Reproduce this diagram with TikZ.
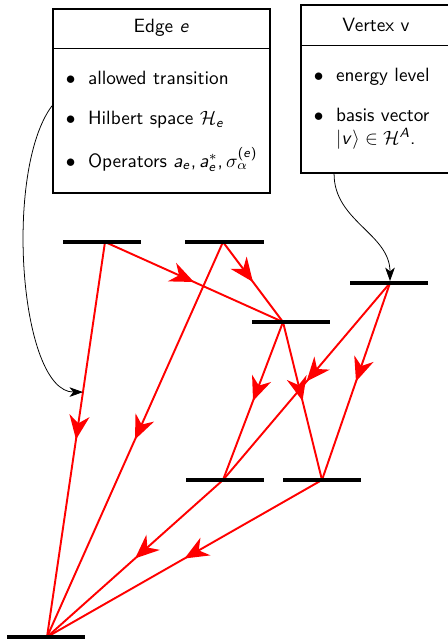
\documentclass[tikz,border=0pt]{standalone}
\usetikzlibrary{arrows.meta,decorations.markings,fit}
\renewcommand{\familydefault}{\sfdefault}
% sans letters in formulas
\DeclareSymbolFont{sfletters}{OT1}{cmss}{m}{sl}
\DeclareSymbolFont{sfupright}{OT1}{cmss}{m}{n}
\DeclareMathSymbol{a}{\mathalpha}{sfletters}{`a}
\DeclareMathSymbol{e}{\mathalpha}{sfletters}{`e}
\DeclareMathSymbol{v}{\mathalpha}{sfletters}{`v}
\DeclareMathSymbol{A}{\mathalpha}{sfletters}{`A}
\DeclareMathSymbol{(}{\mathopen}{sfupright}{"28}
\DeclareMathSymbol{)}{\mathclose}{sfupright}{"29}
\DeclareMathSymbol{,}{\mathpunct}{sfupright}{"2C}
\newenvironment{boxitems}{\begin{list}{$\bullet$}{%
    \setlength{\leftmargin}{18pt}\setlength{\labelwidth}{8pt}%
    \setlength{\labelsep}{6.5pt}\setlength{\itemsep}{8.8pt}%
    \setlength{\parsep}{0pt}\setlength{\topsep}{0pt}\setlength{\partopsep}{0pt}}}%
  {\end{list}}
\begin{document}
\begin{tikzpicture}[x=0.52pt, y=0.52pt,
    level/.style={line width=2pt},
    trans/.style={red, line width=1pt, postaction={decorate},
      decoration={markings, mark=at position 0.5 with {\arrow{Stealth[length=12.5pt, width=10.5pt, inset=4pt]}}}},
    infobox/.style={draw, line width=1pt, inner sep=0pt},
    pointer/.style={thin, -{Stealth[length=7pt, width=5pt, inset=2pt]}}]
  \useasboundingbox (0,0) rectangle (448,644);

  % 1. boxes
  \node[infobox, fit={(53,451) (270,635)}] (edge) {};
  \draw[thin] (53,596) -- (270,596);
  \node[anchor=base] (edgetitle) at (161.5,611) {Edge $e$};
  \node[anchor=north west, inner sep=0pt, text width=112pt, align=left] (edgeitems) at (53,583)
    {\begin{boxitems}
      \item allowed transition
      \item Hilbert space $\mathcal{H}_e$
      \item Operators $a_e, a_e^*, \sigma_\alpha^{(e)}$
    \end{boxitems}};

  \node[infobox, fit={(301,471) (451,639)}] (vertex) {};
  \draw[thin] (301,599) -- (451,599);
  \node[anchor=base] (vertextitle) at (376,612.3) {Vertex v};
  \node[anchor=north west, inner sep=0pt, text width=75pt, align=left] (vertexitems) at (301,586)
    {\begin{boxitems}
      \item energy level
      \item basis vector\newline $|v\rangle \in \mathcal{H}^A$.
    \end{boxitems}};

  % 2. levels
  \coordinate (v1) at (105,402);
  \coordinate (v2) at (223,402);
  \coordinate (v3) at (390,361);
  \coordinate (v4) at (283,322);
  \coordinate (v5) at (223,164);
  \coordinate (v6) at (322,164);
  \coordinate (v7) at (47,7);

  % 3. transitions
  \draw[trans] (v1) -- coordinate[pos=0.38] (hit) (v7);
  \foreach \a/\b in {1/4, 2/4, 2/7, 3/5, 3/6, 4/5, 4/6, 5/7, 6/7}
    \draw[trans] (v\a) -- (v\b);

  \draw[level] (63,402) -- (141,402);
  \draw[level] (185,402) -- (264,402);
  \draw[level] (350,361) -- (428,361);
  \draw[level] (252,322) -- (330,322);
  \draw[level] (186,164) -- (264,164);
  \draw[level] (283,164) -- (361,164);
  \draw[level] (7,7) -- (85,7);

  % 4. pointers
  \draw[pointer] ([yshift=-2.5pt]edge.west) to[out=233, in=180, out distance=42pt, in distance=33pt] (hit);
  \draw[pointer] ([xshift=17.7pt]vertex.south west) to[out=-90, in=90] ([yshift=1pt]v3);
\end{tikzpicture}
\end{document}
